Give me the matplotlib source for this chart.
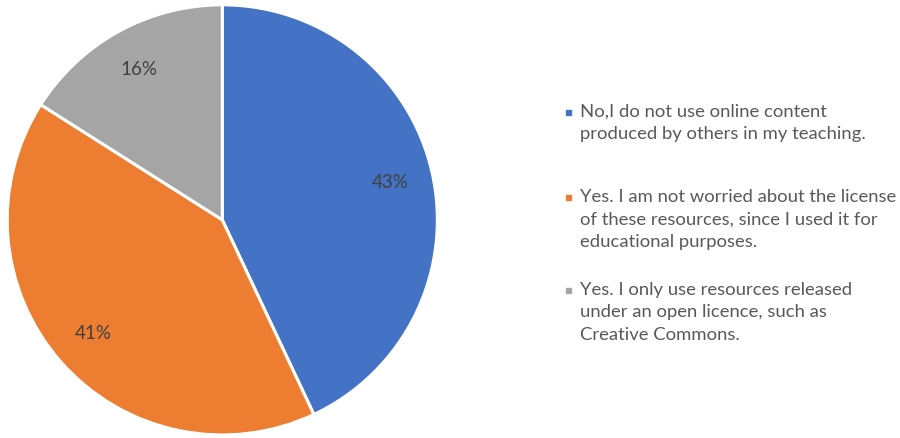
import matplotlib
matplotlib.use("Agg")
import matplotlib.pyplot as plt
from matplotlib.patches import Rectangle

plt.rcParams["font.family"] = ["Lato", "DejaVu Sans"]

labels = [
    "No,I do not use online content\nproduced by others in my teaching.",
    "Yes. I am not worried about the license\nof these resources, since I used it for\neducational purposes.",
    "Yes. I only use resources released\nunder an open licence, such as\nCreative Commons.",
]
shares = [43, 41, 16]
colors = ["#4472C4", "#ED7D31", "#A5A5A5"]

fig = plt.figure(figsize=(9, 4.38), dpi=100)
ax = fig.add_axes([0.008, 0.007, 0.478, 0.982])
wedges, texts, autotexts = ax.pie(
    shares, colors=colors, startangle=90, counterclock=False,
    autopct="%d%%", pctdistance=0.8,
    wedgeprops=dict(edgecolor="white", linewidth=2.2),
    textprops=dict(color="#404040", fontsize=13.5),
)
ax.set_xlim(-1.0, 1.0)
ax.set_ylim(-1.0, 1.0)
ax.set_aspect("equal")

# legend entries: small square marker beside the first line of each label
entry_tops = [104, 189, 282]
for lab, col, top in zip(labels, colors, entry_tops):
    y = 1 - top / 438
    fig.text(580 / 900, y, lab, ha="left", va="top", fontsize=13.3,
             color="#595959", linespacing=1.5)
    fig.patches.append(Rectangle((566 / 900, 1 - (top + 11) / 438), 5 / 900, 5 / 438,
                                 transform=fig.transFigure, color=col))

fig.savefig("out.png", dpi=100)
